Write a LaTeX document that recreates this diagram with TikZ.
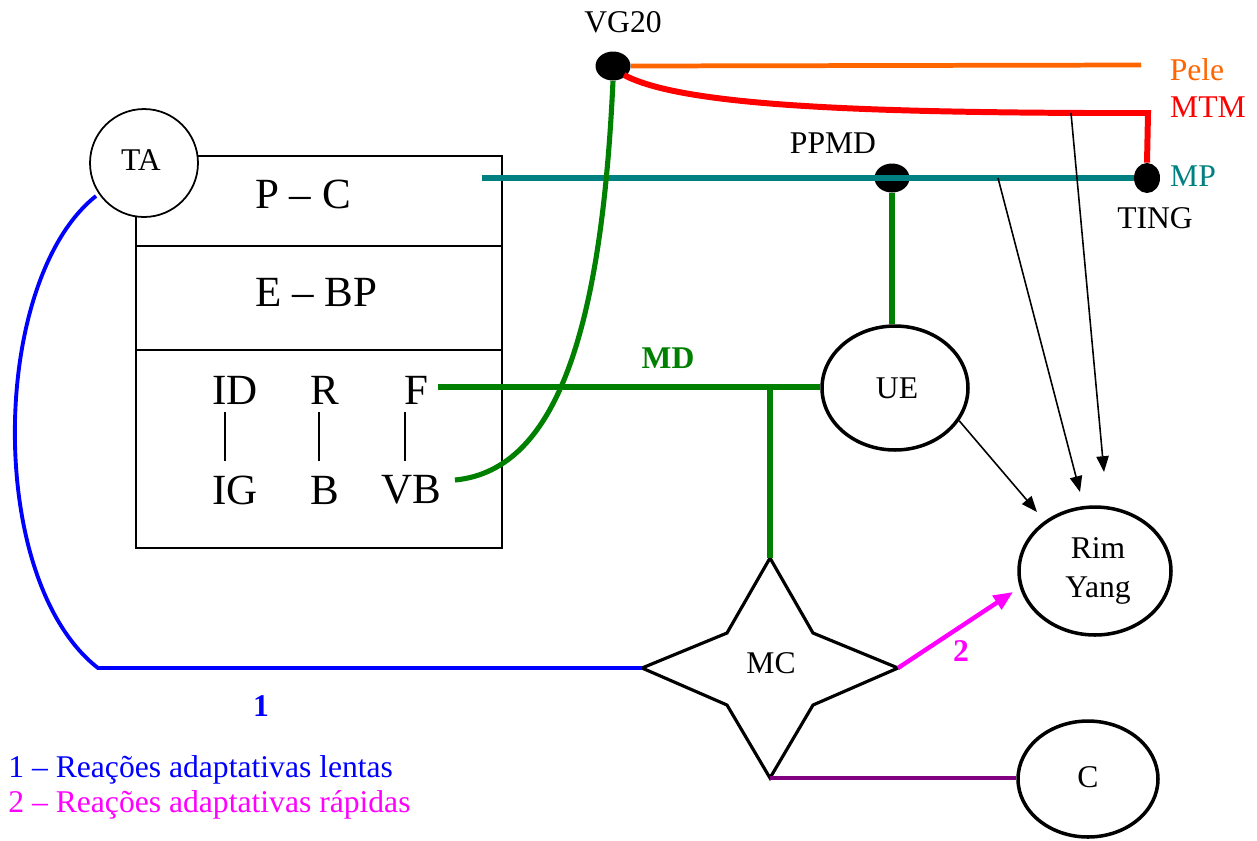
\documentclass[tikz,border=0pt]{standalone}
\usepackage{fontspec}
\setmainfont{Liberation Serif}
\usetikzlibrary{arrows.meta,shapes.geometric}
\definecolor{cOrange}{RGB}{255,102,0}
\definecolor{cRed}{RGB}{255,0,0}
\definecolor{cTeal}{RGB}{0,128,128}
\definecolor{cGreen}{RGB}{0,128,0}
\definecolor{cBlue}{RGB}{0,0,255}
\definecolor{cMag}{RGB}{255,0,255}
\definecolor{cPurple}{RGB}{128,0,128}
\begin{document}
\begin{tikzpicture}[x=0.02cm,y=-0.02cm,
  lbl/.style={font=\fontsize{18}{21}\selectfont, inner sep=0pt},
  biglbl/.style={font=\fontsize{24.5}{28}\selectfont, inner sep=0pt},
  oval/.style={draw, line width=2pt, ellipse, fill=white, inner sep=0pt},
  blackdot/.style={ellipse, fill=black, inner sep=0pt},
  boxline/.style={line width=1.1pt},
  greenline/.style={draw=cGreen, line width=2.9pt},
  tealline/.style={draw=cTeal, line width=2.9pt},
  thinarrow/.style={line width=0.9pt, -{Triangle[length=9pt,width=7pt]}},
]
\useasboundingbox (0,0) rectangle (1257,840);

% ---- box with three compartments
\draw[boxline] (136,156) rectangle (502,548);
\draw[boxline] (136,246) -- (502,246);
\draw[boxline] (136,350) -- (502,350);
\node[biglbl] (pc) at (303,194) {P – C};
\node[biglbl] (ebp) at (316,292) {E – BP};
\node[biglbl] (id) at (235,390) {ID};
\node[biglbl] (r) at (325,390) {R};
\node[biglbl] (f) at (416,390) {F};
\node[biglbl] (ig) at (235,490) {IG};
\node[biglbl] (b) at (325,490) {B};
\node[biglbl] (vb) at (411,490) {VB};
\draw[line width=0.9pt] (225,412) -- (225,461);
\draw[line width=0.9pt] (319,412) -- (319,461);
\draw[line width=0.9pt] (405,412) -- (405,461);

% ---- TA circle
\node[circle, draw, line width=1pt, fill=white, minimum size=2.16cm, inner sep=0pt] (ta) at (144,163) {};
\node[lbl] (talbl) at (141,160) {TA};

% ---- dots
\node[blackdot, minimum width=0.7cm, minimum height=0.58cm] (vg) at (613,66) {};
\node[lbl] (vglbl) at (623,22) {VG20};
\node[blackdot, minimum width=0.7cm, minimum height=0.58cm] (ppmd) at (892,178) {};
\node[lbl] (ppmdlbl) at (833,143) {PPMD};
\node[blackdot, minimum width=0.52cm, minimum height=0.6cm] (ting) at (1147,178) {};
\node[lbl] (tinglbl) at (1155,218) {TING};

% ---- ellipses
\node[oval, minimum width=2.92cm, minimum height=2.48cm] (ue) at (895,388) {};
\node[lbl] at (897,388) {UE};
\node[oval, minimum width=3.04cm, minimum height=2.56cm] (ry) at (1095,571) {};
\node[lbl, align=center] at (1098,571) {Rim\\[1.5pt]Yang};
\node[oval, minimum width=2.8cm, minimum height=2.32cm] (c) at (1088,779) {};
\node[lbl] at (1088,777) {C};

% ---- MC star
\coordinate (mcT) at (770,558);
\coordinate (mcR) at (898,668);
\coordinate (mcB) at (770,778);
\coordinate (mcL) at (642,668);
\draw[line width=1.8pt, line join=miter, fill=white] (mcT) -- (813,633) -- (mcR) -- (813,705) -- (mcB) -- (727,705) -- (mcL) -- (727,633) -- cycle;
\node[lbl] (mc) at (771,663) {MC};

% ---- named free ends
\coordinate (peleEnd) at (1141,65);
\coordinate (mpStart) at (482,178);
\coordinate (fEnd) at (438,387);
\coordinate (vbEnd) at (455,480);
\coordinate (mdJ) at (770,387);
\coordinate (redCorner) at (1148,113);
\coordinate (redStart) at (624,75);
\coordinate (blueStart) at (96,196);
\coordinate (blueCorner) at (98,668);
\coordinate (mtmTap) at (1071,113);
\coordinate (mpTap) at (998,178);
\coordinate (tipA) at (1080,492);
\coordinate (tipB) at (1104,472);
\coordinate (ryTipUE) at (1037,512);
\coordinate (ryTipMag) at (1013,592);

% ---- coloured lines
\draw[cOrange, line width=2.7pt] (vg.east) -- (peleEnd);
\node[lbl, text=cOrange] (pele) at (1197,70) {Pele};
\draw[cRed, line width=3.4pt, line join=miter] (redStart) .. controls (680,105) and (850,112) .. (1090,113) -- (redCorner) -- (ting.north);
\node[lbl, text=cRed] (mtm) at (1208,107) {MTM};
\draw[tealline] (mpStart) -- (ting.west);
\node[lbl, text=cTeal] (mp) at (1193,176) {MP};
\draw[greenline] (ppmd.south) -- (ppmd.south |- ue.north);
\draw[greenline] (fEnd) -- (fEnd -| ue.west);
\node[lbl, text=cGreen, font=\fontsize{18}{21}\selectfont\bfseries] (md) at (668,358) {MD};
\draw[greenline] (mdJ) -- (mcT);
\draw[greenline] (vg.south) .. controls (602,320) and (560,470) .. (vbEnd);

% blue slow reactions
\draw[cBlue, line width=2.2pt] (blueStart) .. controls (-10,280) and (-15,580) .. (blueCorner) -- (mcL);
\node[lbl, text=cBlue, font=\fontsize{18}{21}\selectfont\bfseries] (one) at (261,706) {1};

% magenta fast reactions
\draw[cMag, line width=2.5pt, -{Triangle[length=11pt,width=9pt]}] (mcR) -- (ryTipMag);
\node[lbl, text=cMag, font=\fontsize{18}{21}\selectfont\bfseries] (two) at (961,651) {2};

% purple
\draw[cPurple, line width=2.2pt] (mcB) -- (mcB -| c.west);

% black arrows
\draw[thinarrow] (ue.-27) -- (ryTipUE);
\draw[thinarrow] (mpTap) -- (tipA);
\draw[thinarrow] (mtmTap) -- (tipB);

% legend
\node[lbl, anchor=west, text=cBlue] (leg1) at (8,770) {1 – Reações adaptativas lentas};
\node[lbl, anchor=west, text=cMag] (leg2) at (8,805) {2 – Reações adaptativas rápidas};
\end{tikzpicture}
\end{document}
